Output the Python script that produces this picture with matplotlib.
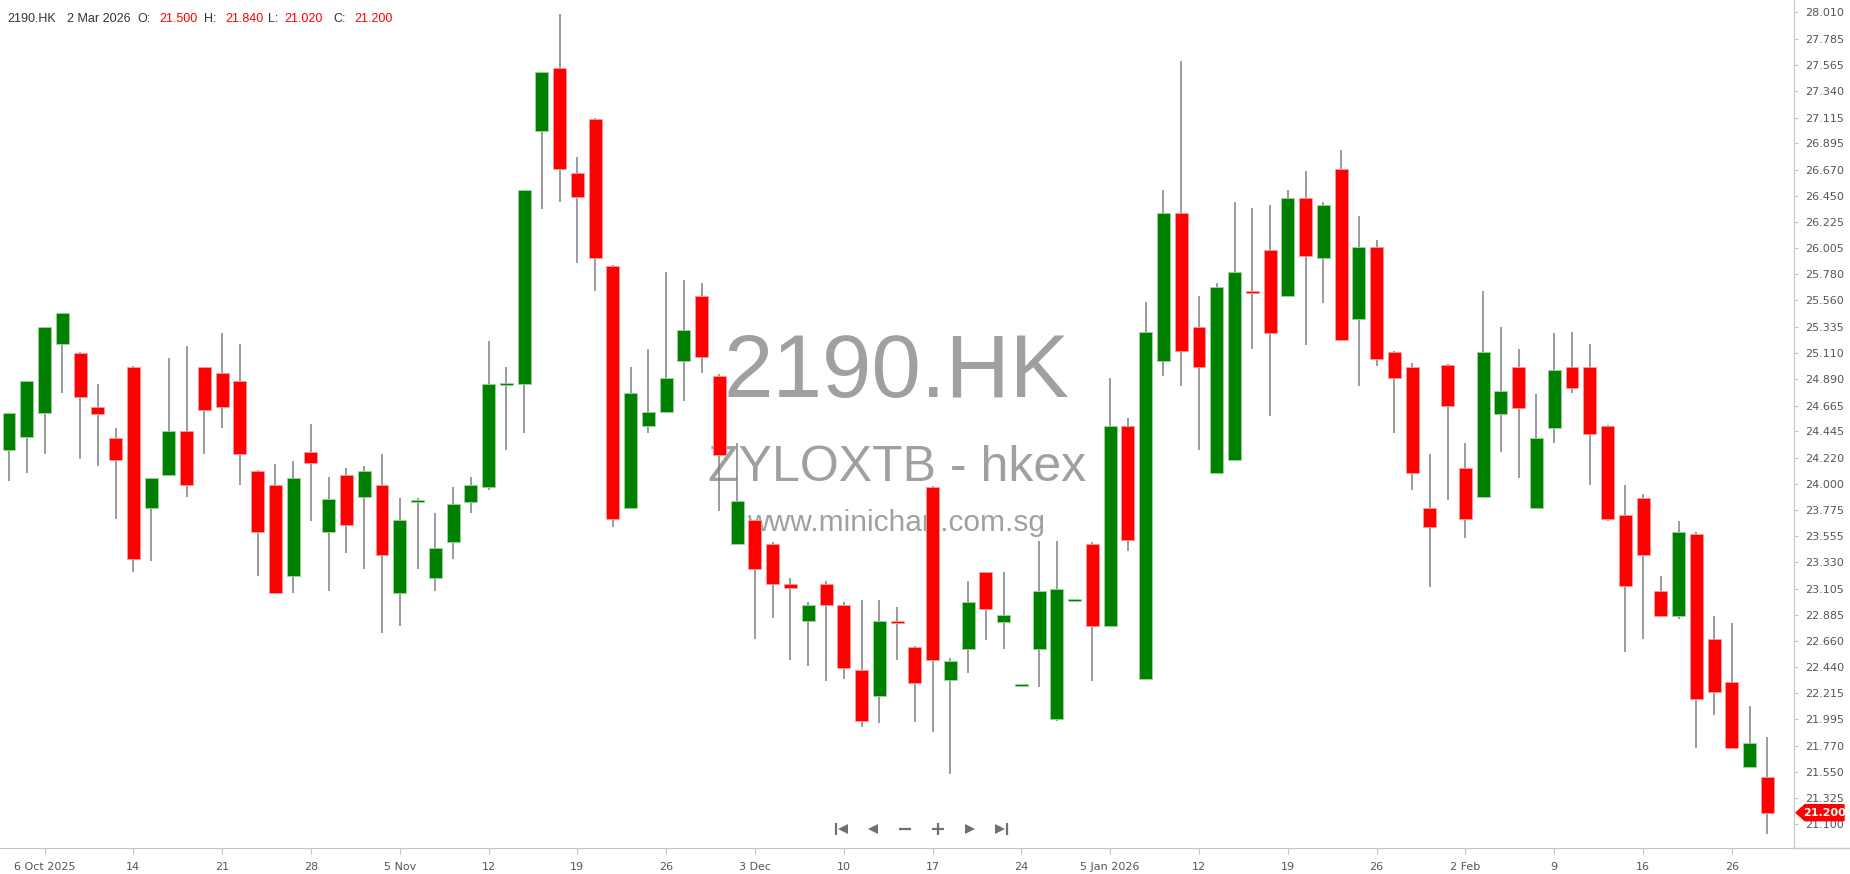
import numpy as np
import matplotlib.pyplot as plt
from matplotlib.patches import Polygon

# ------------------------------------------------------------------
# daily bars, 2 Oct 2025 .. 2 Mar 2026 (HK trading days)
# ------------------------------------------------------------------
opens = [24.29, 24.40, 24.60, 25.19, 25.11, 24.65, 24.39, 24.99, 23.79, 24.07,
         24.45, 24.99, 24.94, 24.87, 24.11, 23.99, 23.21, 24.27, 23.59, 24.07,
         23.89, 23.99, 23.07, 23.84, 23.20, 23.50, 23.84, 23.97, 24.84, 24.85,
         27.00, 27.54, 26.64, 27.10, 25.85, 23.79, 24.49, 24.61, 25.04, 25.60,
         24.92, 23.49, 23.69, 23.49, 23.15, 22.83, 23.15, 22.97, 22.41, 22.19,
         22.83, 22.61, 23.97, 22.33, 22.59, 23.25, 22.82, 22.28, 22.59, 22.00,
         23.00, 23.49, 22.79, 24.49, 22.34, 25.04, 26.30, 25.33, 24.09, 24.20,
         25.64, 25.99, 25.60, 26.43, 25.92, 26.68, 25.40, 26.01, 25.12, 24.99,
         23.79, 25.01, 24.13, 23.89, 24.59, 24.99, 23.79, 24.47, 24.99, 24.99,
         24.49, 23.73, 23.88, 23.09, 22.87, 23.57, 22.68, 22.31, 21.59, 21.50]
highs = [24.60, 24.87, 25.33, 25.45, 25.12, 24.85, 24.47, 25.00, 24.05, 25.07,
         25.17, 24.99, 25.28, 25.19, 24.12, 24.17, 24.19, 24.51, 24.06, 24.13,
         24.15, 24.25, 23.88, 23.88, 23.75, 23.97, 24.06, 25.21, 24.99, 26.50,
         27.50, 28.00, 26.78, 27.11, 25.86, 24.99, 25.15, 25.80, 25.73, 25.71,
         24.93, 24.35, 23.69, 23.50, 23.20, 22.99, 23.17, 22.99, 23.01, 23.01,
         22.95, 22.62, 23.98, 22.52, 23.17, 23.25, 23.25, 22.29, 23.51, 23.51,
         23.01, 23.50, 24.90, 24.56, 25.55, 26.50, 27.60, 25.60, 25.71, 26.40,
         26.35, 26.37, 26.50, 26.66, 26.40, 26.84, 26.28, 26.07, 25.13, 25.03,
         24.25, 25.02, 24.35, 25.64, 25.33, 25.15, 24.76, 25.28, 25.29, 25.19,
         24.50, 23.99, 23.91, 23.21, 23.68, 23.59, 22.87, 22.81, 22.11, 21.84]
lows = [24.02, 24.09, 24.25, 24.77, 24.21, 24.15, 23.70, 23.25, 23.34, 24.07,
        23.89, 24.25, 24.47, 23.99, 23.21, 23.07, 23.07, 23.68, 23.09, 23.41,
        23.27, 22.73, 22.79, 23.27, 23.09, 23.36, 23.75, 23.95, 24.29, 24.43,
        26.34, 26.40, 25.88, 25.64, 23.63, 23.79, 24.43, 24.61, 24.70, 24.94,
        23.77, 23.49, 22.68, 22.86, 22.50, 22.45, 22.32, 22.34, 21.93, 21.96,
        22.50, 21.97, 21.89, 21.53, 22.39, 22.67, 22.59, 22.28, 22.27, 21.98,
        23.00, 22.32, 22.79, 23.43, 22.34, 24.92, 24.83, 24.29, 24.09, 24.20,
        25.15, 24.58, 25.60, 25.18, 25.54, 25.22, 24.83, 25.00, 24.43, 23.95,
        23.12, 23.86, 23.54, 23.89, 24.27, 24.05, 23.79, 24.35, 24.77, 23.99,
        23.68, 22.57, 22.68, 22.87, 22.85, 21.75, 22.03, 21.75, 21.59, 21.02]
closes = [24.60, 24.87, 25.33, 25.45, 24.74, 24.59, 24.20, 23.36, 24.05, 24.45,
          23.99, 24.63, 24.65, 24.25, 23.59, 23.07, 24.05, 24.18, 23.87, 23.65,
          24.11, 23.39, 23.69, 23.86, 23.45, 23.83, 23.99, 24.85, 24.86, 26.50,
          27.50, 26.68, 26.44, 25.92, 23.70, 24.77, 24.61, 24.90, 25.31, 25.08,
          24.24, 23.85, 23.27, 23.15, 23.11, 22.97, 22.97, 22.43, 21.98, 22.83,
          22.81, 22.30, 22.50, 22.49, 22.99, 22.93, 22.88, 22.29, 23.09, 23.10,
          23.01, 22.79, 24.49, 23.52, 25.29, 26.30, 25.13, 24.99, 25.67, 25.80,
          25.62, 25.28, 26.43, 25.94, 26.37, 25.22, 26.01, 25.06, 24.90, 24.09,
          23.63, 24.66, 23.70, 25.12, 24.79, 24.64, 24.39, 24.97, 24.81, 24.42,
          23.70, 23.13, 23.39, 22.87, 23.59, 22.17, 22.23, 21.75, 21.79, 21.20]

date_ticks = list(range(2, 100, 5))
date_labels = ["6 Oct 2025", "14", "21", "28", "5 Nov", "12", "19", "26", "3 Dec",
               "10", "17", "24", "5 Jan 2026", "12", "19", "26", "2 Feb", "9",
               "16", "26"]
price_labels = ["28.010", "27.785", "27.565", "27.340", "27.115", "26.895", "26.670",
                "26.450", "26.225", "26.005", "25.780", "25.560", "25.335", "25.110",
                "24.890", "24.665", "24.445", "24.220", "24.000", "23.775", "23.555",
                "23.330", "23.105", "22.885", "22.660", "22.440", "22.215", "21.995",
                "21.770", "21.550", "21.325", "21.100"]

symbol = "2190.HK"
last_date = "2 Mar 2026"

UP = '#008000'
DOWN = '#ff0000'
UP_EDGE = '#9fd39f'
DOWN_EDGE = '#ff9a9a'
WICK = '#808080'
AXIS_LINE = '#c4c4c4'
TEXT_GREY = '#555555'

W, H = 1850, 874
fig = plt.figure(figsize=(W / 100, H / 100), dpi=100, facecolor='white')

axis_y = 26.3      # px from bottom of the time axis line
axis_x = 1794      # px of the price axis line
ax = fig.add_axes([0, axis_y / H, axis_x / W, 1 - axis_y / H])
ax.set_facecolor('none')
ax.set_zorder(1)

deco = fig.add_axes([0, 0, 1, 1])
deco.set_xlim(0, W)
deco.set_ylim(0, H)
deco.axis('off')
deco.set_zorder(2)
deco.patch.set_alpha(0)

# ------------------------------------------------------------------
# candles
# ------------------------------------------------------------------
o = np.array(opens)
h = np.array(highs)
l = np.array(lows)
c = np.array(closes)
x = np.arange(len(o))
up = c >= o

body_lo = np.minimum(o, c)
body_h = np.maximum(np.abs(c - o), 0.018)

ax.vlines(x, l, h, color=WICK, linewidth=1.1, zorder=2)
ax.bar(x, body_h, width=0.73, bottom=body_lo,
       color=np.where(up, UP, DOWN), edgecolor=np.where(up, UP_EDGE, DOWN_EDGE),
       linewidth=0.6, zorder=3)

ax.set_xlim(-0.507, 100.5)
ax.set_ylim(20.902, 28.116)

# axes look
for side in ('left', 'top'):
    ax.spines[side].set_visible(False)
ax.spines['right'].set_color(AXIS_LINE)
ax.spines['bottom'].set_color(AXIS_LINE)
ax.yaxis.tick_right()
ax.set_yticks([float(v) for v in price_labels])
ax.set_yticklabels(price_labels)
ax.set_xticks(date_ticks)
ax.set_xticklabels(date_labels)
ax.tick_params(axis='y', length=3, color=AXIS_LINE, pad=5, labelsize=8,
               labelcolor=TEXT_GREY)
ax.tick_params(axis='x', length=4, color=AXIS_LINE, pad=6, labelsize=8,
               labelcolor=TEXT_GREY)
deco.plot([axis_x, W], [axis_y, axis_y], color=AXIS_LINE, lw=1)

# ------------------------------------------------------------------
# watermark (under the candles)
# ------------------------------------------------------------------
wm = dict(transform=deco.transData, ha='center', va='baseline', color='#a0a0a0',
          family='Liberation Sans', zorder=1, clip_on=False)
ax.text(897, H - 396.7, symbol, fontsize=64, **wm)
ax.text(897, H - 480.7, "ZYLOXTB - hkex", fontsize=36, **wm)
ax.text(896, H - 530.7, "www.minichart.com.sg", fontsize=21.5, **wm)

# ------------------------------------------------------------------
# header line
# ------------------------------------------------------------------
hy = H - 22
parts = [(7, symbol, '#333333'), (67, last_date, '#333333'),
         (137, "O:", '#333333'), (159, f"{opens[-1]:.3f}", DOWN),
         (204, "H:", '#333333'), (225, f"{highs[-1]:.3f}", DOWN),
         (268, "L:", '#333333'), (284, f"{lows[-1]:.3f}", DOWN),
         (333, "C:", '#333333'), (354, f"{closes[-1]:.3f}", DOWN)]
for px, s, col in parts:
    deco.text(px, hy, s, fontsize=9, color=col, ha='left', va='baseline',
              family='Liberation Sans')

# ------------------------------------------------------------------
# last price tag
# ------------------------------------------------------------------
ty = ax.transData.transform((0, closes[-1]))[1]
tag_col = DOWN if closes[-1] < opens[-1] else UP
deco.add_patch(Polygon([(axis_x + 2, ty), (axis_x + 11, ty + 8), (W - 6, ty + 8),
                        (W - 6, ty - 8), (axis_x + 11, ty - 8)],
                       closed=True, color=tag_col, zorder=5))
deco.text(1825, ty, f"{closes[-1]:.3f}", fontsize=8, color='white',
          fontweight='bold', ha='center', va='center', zorder=6)

# ------------------------------------------------------------------
# navigation buttons
# ------------------------------------------------------------------
ny = H - 829
nav = '#707070'
deco.plot([836], [ny], marker='|', ms=9, mew=1.6, color=nav)
deco.plot([843], [ny], marker='<', ms=6.5, color=nav, mew=0)
deco.plot([873], [ny], marker='<', ms=6.5, color=nav, mew=0)
deco.plot([905], [ny], marker='_', ms=8, mew=1.6, color=nav)
deco.plot([938], [ny], marker='+', ms=9, mew=1.6, color=nav)
deco.plot([970], [ny], marker='>', ms=6.5, color=nav, mew=0)
deco.plot([1000], [ny], marker='>', ms=6.5, color=nav, mew=0)
deco.plot([1007], [ny], marker='|', ms=9, mew=1.6, color=nav)

fig.savefig('out.png', dpi=100, facecolor='white')
